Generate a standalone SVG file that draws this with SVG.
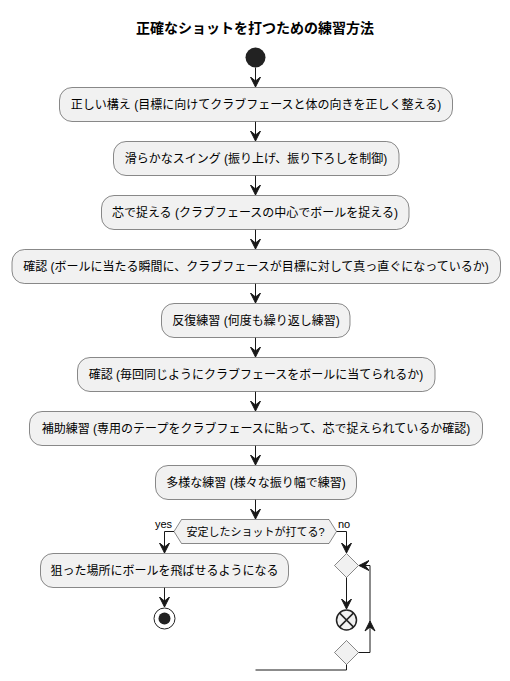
<svg xmlns="http://www.w3.org/2000/svg" width="510" height="681" viewBox="0 0 510 681">
<defs>
<style>
.box{fill:#F1F1F1;stroke:#181818;stroke-width:0.5}
.t{font-family:"Liberation Sans","Noto Sans CJK JP",sans-serif;font-size:12px;fill:#000;text-anchor:middle}
.s{font-family:"Liberation Sans","Noto Sans CJK JP",sans-serif;font-size:11px;fill:#000}
.ln{fill:none;stroke:#181818;stroke-width:1}
.ah{fill:#181818;stroke:#181818;stroke-width:1}
</style>
<marker id="arr" markerUnits="userSpaceOnUse" markerWidth="12" markerHeight="12" refX="10" refY="5" orient="auto" viewBox="0 0 12 12">
<path d="M0,0 L10,5 L0,10 L4,5 Z" class="ah"/>
</marker>
</defs>
<rect width="510" height="681" fill="#FFFFFF"/>
<text x="255" y="33" style="font-family:'Liberation Sans','Noto Sans CJK JP',sans-serif;font-size:14px;font-weight:bold;text-anchor:middle">正確なショットを打つための練習方法</text>

<g id="connectors">
<path class="ln" d="M255.5,67.5 V87" marker-end="url(#arr)"/>
<path class="ln" d="M255.5,121.5 V141" marker-end="url(#arr)"/>
<path class="ln" d="M255.5,175.5 V195" marker-end="url(#arr)"/>
<path class="ln" d="M255.5,229.5 V249" marker-end="url(#arr)"/>
<path class="ln" d="M255.5,283.5 V303" marker-end="url(#arr)"/>
<path class="ln" d="M255.5,337.5 V357" marker-end="url(#arr)"/>
<path class="ln" d="M255.5,391.5 V411" marker-end="url(#arr)"/>
<path class="ln" d="M255.5,445.5 V465" marker-end="url(#arr)"/>
<path class="ln" d="M255.5,499.5 V519" marker-end="url(#arr)"/>
<path class="ln" d="M174,531.5 H164.5 V553" marker-end="url(#arr)"/>
<path class="ln" d="M336.5,531.5 H346.5 V553" marker-end="url(#arr)"/>
<path class="ln" d="M164.5,587.5 V607" marker-end="url(#arr)"/>
<path class="ln" d="M346.5,577.5 V609" marker-end="url(#arr)"/>
<path class="ln" d="M358.5,652.5 H370 V565.5 H359" marker-end="url(#arr)"/>
<polygon class="ah" points="365,631 370,621 375,631 370,627"/>
<path class="ln" d="M346.5,664.5 V670 H255.5"/>
<text class="s" x="155" y="527.5">yes</text>
<text class="s" x="338" y="527.5">no</text>
</g>

<g id="start"><circle cx="255.5" cy="57.5" r="10" fill="#222222"/></g>

<g id="n1"><rect class="box" x="59.5" y="87.5" width="393" height="34" rx="12.5"/>
<text class="t" x="256" y="108.5">正しい構え (目標に向けてクラブフェースと体の向きを正しく整える)</text></g>
<g id="n2"><rect class="box" x="113.5" y="141.5" width="285.5" height="34" rx="12.5"/>
<text class="t" x="256" y="162.5">滑らかなスイング (振り上げ、振り下ろしを制御)</text></g>
<g id="n3"><rect class="box" x="101.5" y="195.5" width="307.5" height="34" rx="12.5"/>
<text class="t" x="255" y="216.5">芯で捉える (クラブフェースの中心でボールを捉える)</text></g>
<g id="n4"><rect class="box" x="12" y="249.5" width="488.5" height="34" rx="12.5"/>
<text class="t" x="256" y="270.5">確認 (ボールに当たる瞬間に、クラブフェースが目標に対して真っ直ぐになっているか)</text></g>
<g id="n5"><rect class="box" x="161.5" y="303.5" width="188.5" height="34" rx="12.5"/>
<text class="t" x="256" y="324.5">反復練習 (何度も繰り返し練習)</text></g>
<g id="n6"><rect class="box" x="77.5" y="357.5" width="357.5" height="34" rx="12.5"/>
<text class="t" x="256" y="378.5">確認 (毎回同じようにクラブフェースをボールに当てられるか)</text></g>
<g id="n7"><rect class="box" x="29.5" y="411.5" width="453" height="34" rx="12.5"/>
<text class="t" x="256" y="432.5">補助練習 (専用のテープをクラブフェースに貼って、芯で捉えられているか確認)</text></g>
<g id="n8"><rect class="box" x="155.5" y="465.5" width="201" height="34" rx="12.5"/>
<text class="t" x="256" y="486.5">多様な練習 (様々な振り幅で練習)</text></g>

<g id="decision"><polygon class="box" points="174,531.5 181.5,519.5 329,519.5 336.5,531.5 329,543.5 181.5,543.5"/>
<text class="s" x="255.5" y="535.5" text-anchor="middle">安定したショットが打てる?</text></g>

<g id="n9"><rect class="box" x="40.5" y="553.5" width="248" height="34" rx="12.5"/>
<text class="t" x="164.5" y="574.5">狙った場所にボールを飛ばせるようになる</text></g>

<g id="end"><circle cx="164.5" cy="618.5" r="10.5" fill="none" stroke="#222222" stroke-width="1"/>
<circle cx="164.5" cy="618.5" r="6" fill="#222222"/></g>

<g id="merge1"><polygon class="box" points="346.5,553.5 358.5,565.5 346.5,577.5 334.5,565.5"/></g>

<g id="stop"><circle cx="346.5" cy="620" r="10" fill="#F1F1F1" stroke="#222222" stroke-width="1.5"/>
<path d="M339.4,612.9 L353.6,627.1 M353.6,612.9 L339.4,627.1" stroke="#222222" stroke-width="1.5"/></g>

<g id="repeat"><polygon class="box" points="346.5,640.5 358.5,652.5 346.5,664.5 334.5,652.5"/></g>
</svg>
